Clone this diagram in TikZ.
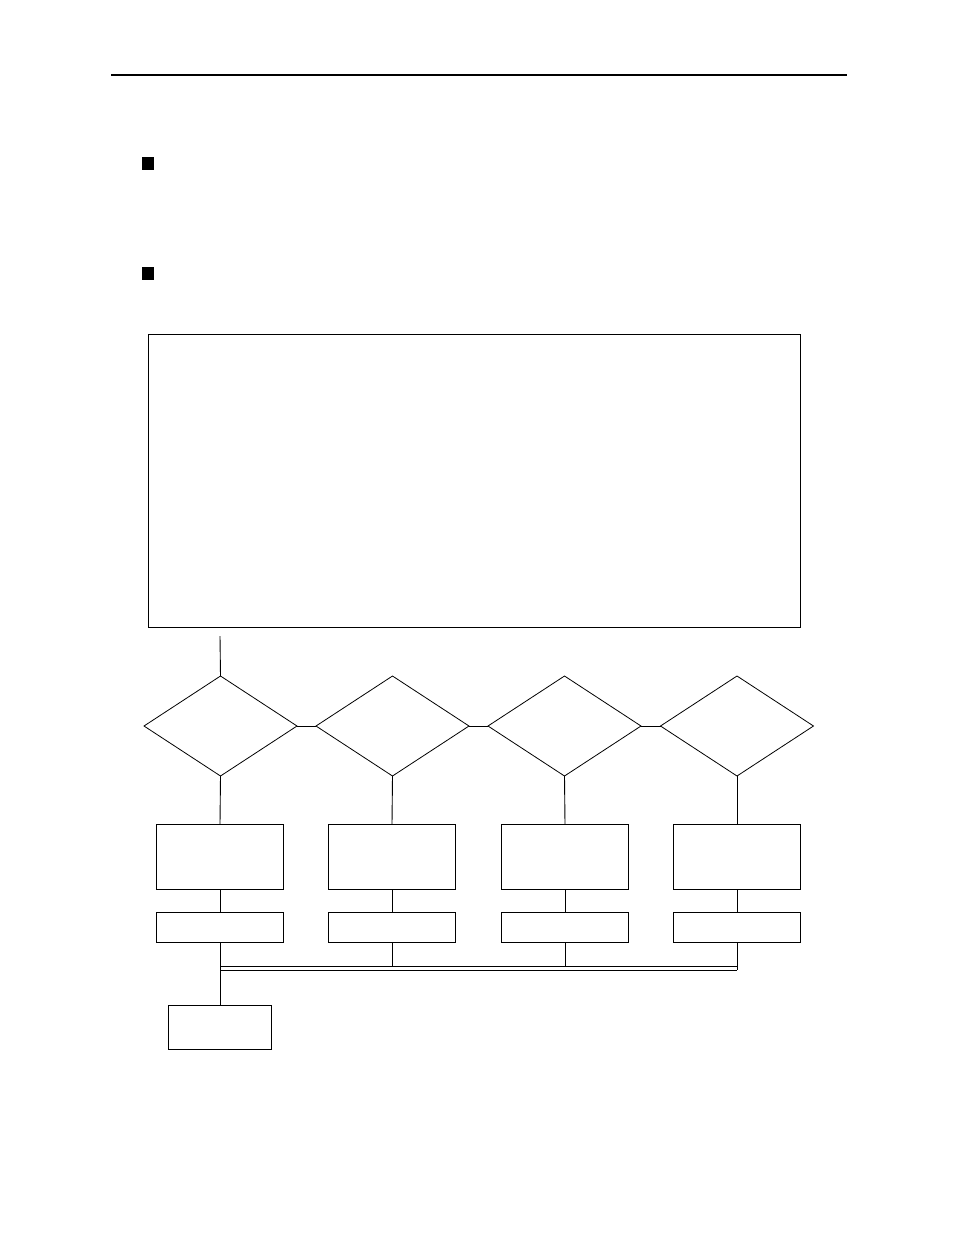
\documentclass[tikz,border=0pt]{standalone}
\usetikzlibrary{shapes.geometric}
\begin{document}
\begin{tikzpicture}[x=1pt,y=-1pt,
  boxnode/.style={draw=black,line width=1pt,rectangle,inner sep=0pt,outer sep=0pt,fill=white},
  dnode/.style={draw=black,line width=0.8pt,diamond,inner sep=0pt,outer sep=0pt,minimum width=153pt,minimum height=100pt},
  bullet/.style={fill=black,rectangle,inner sep=0pt,outer sep=0pt,minimum width=12pt,minimum height=13pt},
  conn/.style={draw=black,line width=0.9pt}]
\useasboundingbox (0,0) rectangle (954,1235);
\fill[white] (0,0) rectangle (954,1235);
% top rule
\coordinate (ruleL) at (111,75);
\coordinate (ruleR) at (847,75);
\draw[line width=2pt] (ruleL) -- (ruleR);
% bullets
\node[bullet] (bul1) at (148,163.5) {};
\node[bullet] (bul2) at (148,273.5) {};
% big box
\node[boxnode,minimum width=652pt,minimum height=293pt] (big) at (474,480.5) {};
% diamonds
\node[dnode] (d1) at (220.5,726) {};
\node[dnode] (d2) at (392.5,726) {};
\node[dnode] (d3) at (564.5,726) {};
\node[dnode] (d4) at (737,726) {};
% upper boxes
\foreach \i/\x in {1/220,2/392,3/565,4/737}{
  \node[boxnode,minimum width=127pt,minimum height=65pt] (b\i) at (\x,856.5) {};
  \node[boxnode,minimum width=127pt,minimum height=30pt] (s\i) at (\x,927) {};
}
% final box
\node[boxnode,minimum width=103pt,minimum height=44pt] (fin) at (220,1027) {};
% connectors
\coordinate (start) at (220,636);
\draw[conn] (start) -- (d1.north);
\draw[conn] (d1.east) -- (d2.west);
\draw[conn] (d2.east) -- (d3.west);
\draw[conn] (d3.east) -- (d4.west);
\foreach \i in {1,2,3,4}{
  \draw[conn] (d\i.south) -- (b\i.north);
  \draw[conn] (b\i.south) -- (s\i.north);
}
\coordinate (busU) at (220,966);
\coordinate (busL) at (220,970);
\draw[conn] (s1.south) -- (fin.north);
\draw[conn] (busU) -- (busU -| s4.south);
\draw[conn] (busL) -- (busL -| s4.south);
\draw[conn] (s2.south) -- (s2.south |- busU);
\draw[conn] (s3.south) -- (s3.south |- busU);
\draw[conn] (s4.south) -- (s4.south |- busL);
\end{tikzpicture}
\end{document}
